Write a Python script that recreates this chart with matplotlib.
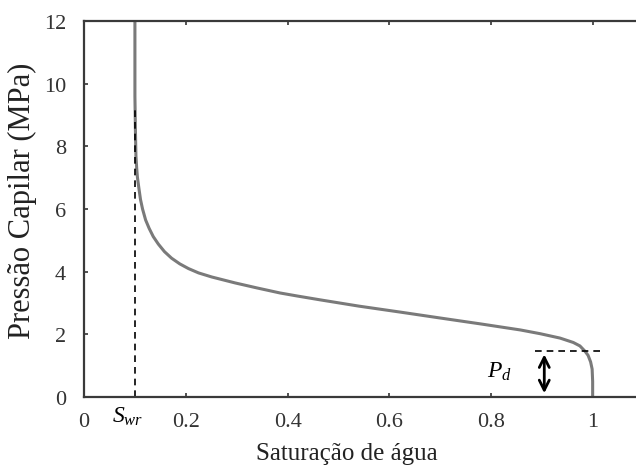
import matplotlib
matplotlib.use("Agg")
import matplotlib.pyplot as plt

plt.rcParams['font.family'] = ['Liberation Serif', 'DejaVu Serif']
plt.rcParams['mathtext.fontset'] = 'custom'
plt.rcParams['mathtext.it'] = 'Liberation Serif:italic'
plt.rcParams['mathtext.rm'] = 'Liberation Serif'

# Capillary pressure curve
sw = [0.100, 0.100, 0.101, 0.102, 0.1035, 0.105, 0.108, 0.111, 0.115, 0.121,
      0.128, 0.136, 0.146, 0.158, 0.172, 0.188, 0.205, 0.225, 0.251, 0.297,
      0.340, 0.385, 0.420, 0.464, 0.540, 0.621, 0.700, 0.780, 0.857, 0.896,
      0.935, 0.961, 0.974, 0.984, 0.990, 0.995, 0.998, 0.999, 0.999]
pc = [12.0, 9.6, 8.5, 7.69, 7.3, 7.0, 6.64, 6.3, 6.0, 5.65,
      5.38, 5.12, 4.88, 4.64, 4.43, 4.25, 4.10, 3.96, 3.83, 3.64,
      3.48, 3.32, 3.22, 3.10, 2.90, 2.71, 2.52, 2.33, 2.14, 2.02,
      1.88, 1.74, 1.63, 1.46, 1.33, 1.12, 0.89, 0.5, 0.0]

swr = 0.1
pd = 1.46
xticks = [0, 0.2, 0.4, 0.6, 0.8, 1]
xticklabels = ['0', '0.2', '0.4', '0.6', '0.8', '1']
yticks = [0, 2, 4, 6, 8, 10, 12]

fig = plt.figure(figsize=(6.36, 4.77), dpi=100)
W, H = 636, 477
ax = fig.add_axes([84 / W, (H - 398) / H, 556 / W, 376 / H])

ax.plot(sw, pc, color='#7a7a7a', lw=2.2, solid_capstyle='butt', solid_joinstyle='round')
ax.plot([swr, swr], [0, 9.3], color='black', lw=1.2, ls=(0, (4, 3)))
ax.plot([0.886, 1.014], [pd, pd], color='black', lw=1.2, ls=(0, (4, 3)))
ax.annotate('', xy=(0.904, 0.12), xytext=(0.904, 1.36),
            arrowprops=dict(arrowstyle='<->', lw=2, color='black', mutation_scale=18,
                            shrinkA=0, shrinkB=0))
ax.text(0.815, 0.85, r'$P_d$', fontsize=17, ha='center', va='center')
ax.text(0.085, -0.25, r'$S_{wr}$', fontsize=17, ha='center', va='top', clip_on=False)

ax.set_xlim(0, 1.092)
ax.set_ylim(0, 12)
ax.set_xticks(xticks)
ax.set_xticklabels(xticklabels)
ax.set_yticks(yticks)
ax.tick_params(direction='in', length=3, width=1.2, colors='#333333', labelsize=16,
               top=True, right=True, pad=11)
ax.tick_params(axis='y', pad=13)
for s in ax.spines.values():
    s.set_color('#3a3a3a')
    s.set_linewidth(1.6)

ax.set_xlabel('Saturação de água', fontsize=18, color='#222222', labelpad=8, x=0.473)
ax.set_ylabel('Pressão Capilar (MPa)', fontsize=22, color='#222222', labelpad=5, y=0.524)

fig.savefig('out.png', dpi=100)
